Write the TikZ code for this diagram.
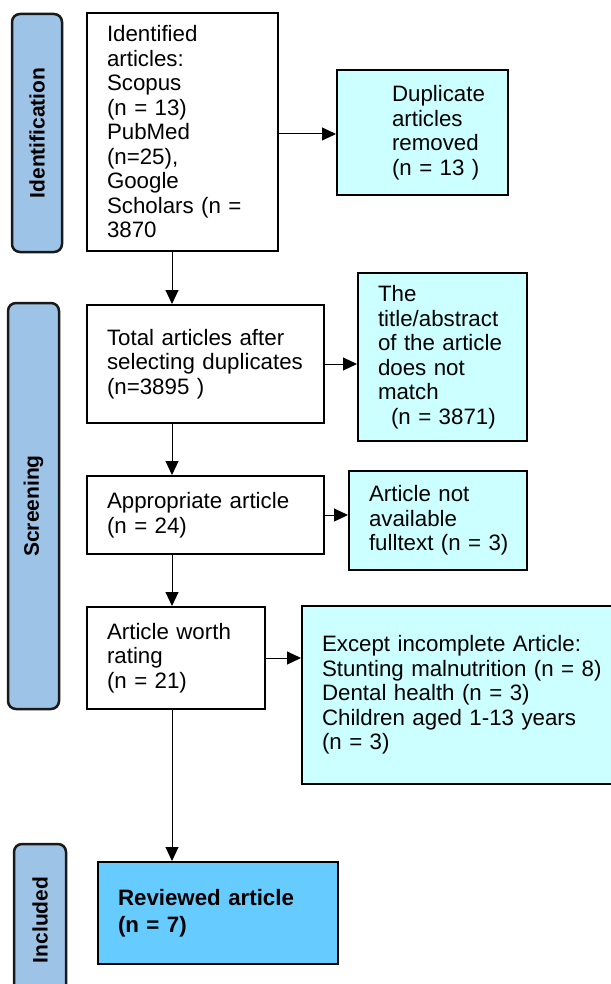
\documentclass[tikz,border=0pt]{standalone}
\usepackage{fontspec}
\setmainfont{Liberation Sans}
\usetikzlibrary{arrows.meta}

\definecolor{phaseblue}{RGB}{157,195,230}
\definecolor{excludecyan}{RGB}{204,255,255}
\definecolor{includeblue}{RGB}{102,204,255}

\begin{document}
\begin{tikzpicture}[x=1pt, y=-1pt,
        phase/.style={draw=black!90, line width=2.5pt, rounded corners=8pt, fill=phaseblue, rotate=90, inner sep=0pt, font=\fontsize{21}{25}\selectfont\bfseries},
        stagebox/.style={draw, line width=2pt, fill=white, inner sep=0pt, anchor=north west, align=left, font=\fontsize{22.3}{24.5}\selectfont, execute at begin node={\leftskip=20pt}},
        outbox/.style={stagebox, fill=excludecyan},
        arr/.style={-{Triangle[length=14pt,width=13pt]}, line width=1pt}]
        \useasboundingbox (0,0) rectangle (610,984);
        % phase labels on the left
        \node[phase, minimum width=238pt, minimum height=50pt] (identification) at (37,133) {Identification};
        \node[phase, minimum width=406pt, minimum height=51pt] (screening) at (33.5,506) {Screening};
        \node[phase, minimum width=152pt, minimum height=52pt] (included) at (40,920) {Included};
        % main column
        \node[stagebox, text width=191pt, minimum height=238pt] (ident) at (86,12) {Identified\\articles:\\Scopus\\(n = 13)\\PubMed\\(n=25),\\Google\\Scholars (n =\\3870};
        \node[stagebox, text width=237pt, minimum height=118pt] (total) at (86,304) {Total articles after\\selecting duplicates\\(n=3895 )};
        \node[stagebox, text width=237pt, minimum height=78pt] (approp) at (86,475) {Appropriate article\\(n = 24)};
        \node[stagebox, text width=178pt, minimum height=102pt] (worth) at (86,606) {Article worth\\rating\\(n = 21)};
        \node[stagebox, fill=includeblue, text width=240pt, minimum height=102pt, font=\fontsize{22.3}{27}\selectfont\bfseries] (reviewed) at (97,861) {Reviewed article\\(n = 7)};
        % excluded records
        \node[outbox, text width=171pt, minimum height=125pt, execute at begin node={\leftskip=55pt}] (dup) at (336,69) {Duplicate\\articles\\removed\\(n = 13 )};
        \node[outbox, text width=169pt, minimum height=168pt] (title) at (357,272) {The\\title/abstract\\of the article\\does not\\match\\\hspace*{13pt}(n = 3871)};
        \node[outbox, text width=178pt, minimum height=99pt] (avail) at (348,470) {Article not\\available\\fulltext (n = 3)};
        \node[outbox, text width=313pt, minimum height=178pt] (except) at (301,605) {Except incomplete Article:\\Stunting malnutrition (n = 8)\\Dental health (n = 3)\\Children aged 1-13 years\\(n = 3)};
        \coordinate (spine) at (172,0);
        \draw[arr] (ident.south -| spine) -- (total.north -| spine);
        \draw[arr] (total.south -| spine) -- (approp.north -| spine);
        \draw[arr] (approp.south -| spine) -- (worth.north -| spine);
        \draw[arr] (worth.south -| spine) -- (reviewed.north -| spine);
        \draw[arr] ([yshift=-2pt]ident.east) -- ([yshift=-2pt]ident.east -| dup.west);
        \draw[arr] (total.east) -- (total.east -| title.west);
        \draw[arr] (approp.east) -- (approp.east -| avail.west);
        \draw[arr] (worth.east) -- (worth.east -| except.west);
    \end{tikzpicture}
\end{document}
